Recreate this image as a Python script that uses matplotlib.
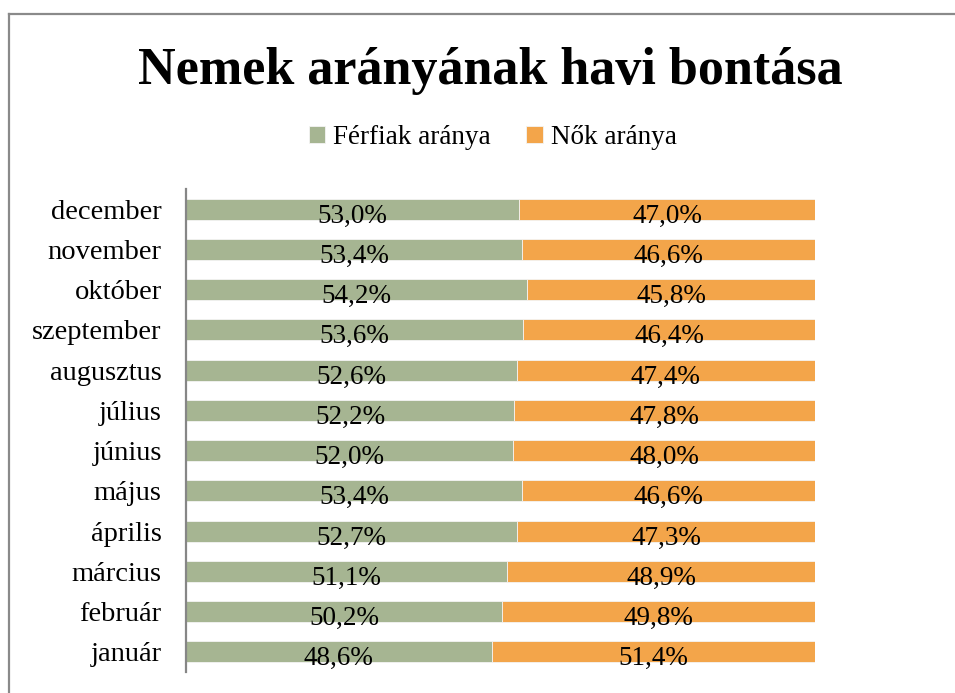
import matplotlib
matplotlib.use('Agg')
import matplotlib.pyplot as plt
from matplotlib.lines import Line2D

plt.rcParams['font.family'] = ['Liberation Serif', 'DejaVu Serif']

months = ['január', 'február', 'március', 'április', 'május', 'június',
          'július', 'augusztus', 'szeptember', 'október', 'november',
          'december']
men = [48.6, 50.2, 51.1, 52.7, 53.4, 52.0, 52.2, 52.6, 53.6, 54.2, 53.4, 53.0]
women = [51.4, 49.8, 48.9, 47.3, 46.6, 48.0, 47.8, 47.4, 46.4, 45.8, 46.6, 47.0]
series_names = ['Férfiak aránya', 'Nők aránya']

green = '#a6b592'
orange = '#f3a54a'


def fmt(v):
    return '{:.1f}%'.format(v).replace('.', ',')


def main():
    fig = plt.figure(figsize=(9.55, 6.93), dpi=100)
    ax = fig.add_axes([186 / 955, 1 - 672 / 693, 629 / 955, 483 / 693])

    pos = list(range(len(months)))
    b1 = ax.barh(pos, men, height=0.52, color=green, edgecolor='#f4f4f4',
                 linewidth=0.6, label=series_names[0])
    b2 = ax.barh(pos, women, left=men, height=0.52, color=orange,
                 edgecolor='#f4f4f4', linewidth=0.6, label=series_names[1])

    for y, m, w in zip(pos, men, women):
        ax.text(m / 2, y - 0.17, fmt(m), ha='center', va='center',
                fontsize=19.5, color='black')
        ax.text(m + w / 2, y - 0.17, fmt(w), ha='center', va='center',
                fontsize=19.5, color='black')

    ax.set_xlim(0, 100)
    ax.set_ylim(-0.5, len(months) - 0.5)
    ax.set_yticks(pos)
    ax.set_yticklabels(months, fontsize=20.5)
    ax.tick_params(axis='y', length=0, pad=17.5)
    ax.set_xticks([])
    for s in ['top', 'right', 'bottom']:
        ax.spines[s].set_visible(False)
    ax.spines['left'].set_color('#868686')
    ax.spines['left'].set_linewidth(1.6)

    fig.text(0.513, 0.897, 'Nemek arányának havi bontása', ha='center',
             va='center', fontsize=37.5, fontweight='bold')

    fig.legend(handles=[b1, b2], loc='center', bbox_to_anchor=(0.516, 0.802),
               ncol=2, frameon=False, fontsize=19.5, handlelength=0.6,
               handleheight=0.6, handletextpad=0.3, columnspacing=1.3)

    # outer frame (left and top edges only, the rest is cropped)
    fig.add_artist(Line2D([9 / 955, 9 / 955], [0, 1 - 14 / 693],
                          transform=fig.transFigure, color='#8a8a8a', lw=1.6))
    fig.add_artist(Line2D([9 / 955, 1], [1 - 14 / 693, 1 - 14 / 693],
                          transform=fig.transFigure, color='#8a8a8a', lw=1.6))

    fig.savefig('out.png', dpi=100)


if __name__ == '__main__':
    main()
